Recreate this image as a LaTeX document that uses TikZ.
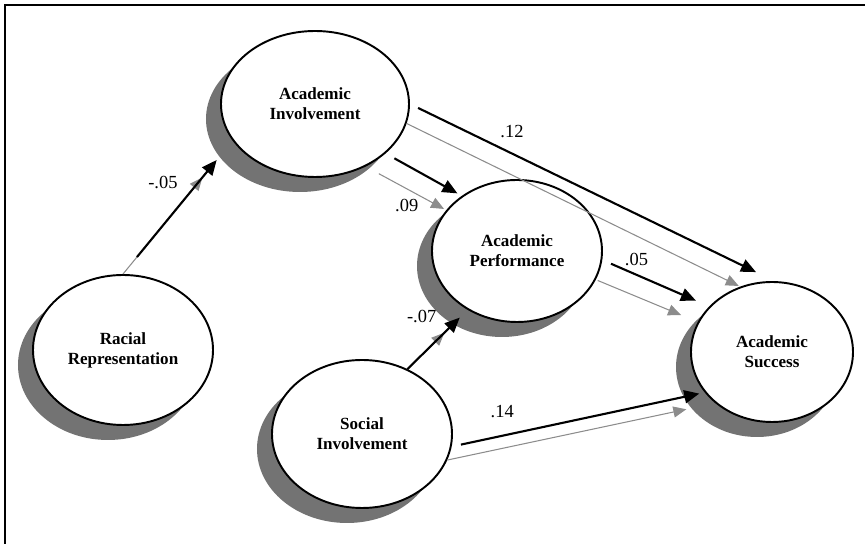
\documentclass[tikz,border=0pt]{standalone}
\usepackage{fontspec}
\setmainfont{Liberation Serif}
\usetikzlibrary{shapes,arrows.meta,shadows}

\begin{document}
\begin{tikzpicture}[x=0.2mm, y=-0.2mm]
        % Define block styles
        \tikzstyle{construct} = [ellipse, draw, fill=white, line width=1.1pt, inner sep=0pt,
            align=center, font=\fontsize{9.7}{11.4}\selectfont\bfseries,
            drop shadow={shadow xshift=-3mm, shadow yshift=-3mm, fill=black!55, opacity=1}]
        \tikzstyle{line} = [draw, line width=1.2pt, -{Triangle[length=3mm, width=2.6mm]}]
        \tikzstyle{faint} = [draw, black!45, line width=0.6pt, -{Triangle[length=2.6mm, width=2.2mm]}]
        \tikzstyle{weight} = [inner sep=0pt, text=black, font=\fontsize{10.5}{12}\selectfont]

        \useasboundingbox (0,0) rectangle (865,544);
        \draw [line width=0.6pt] (5,544) -- (5,5) -- (865,5);

        % Nodes
        \node [construct, minimum width=36mm, minimum height=30mm] (racial) at (123,350) {Racial\\Representation};
        \node [construct, minimum width=37.6mm, minimum height=29.2mm] (acad) at (315,104) {Academic\\Involvement};
        \node [construct, minimum width=34mm, minimum height=28.4mm] (perf) at (517,251) {Academic\\Performance};
        \node [construct, minimum width=36mm, minimum height=29.6mm] (social) at (362,434) {Social\\Involvement};
        \node [construct, minimum width=32.4mm, minimum height=28mm] (success) at (772,352) {Academic\\Success};

        % Arrows
        \path [faint, shorten >=9.5mm] (racial.90) -- (acad.204);
        \path [line, shorten <=4.4mm, shorten >=5mm] (racial.90) -- node[weight, pos=0.69, left=4mm] {-.05} (acad.204);

        \path [faint, shorten <=3mm, shorten >=0.5mm] (acad.309) -- node[weight, pos=0.51, below=2mm] {.09} (perf.150);
        \path [line, shorten <=2mm, shorten >=1mm] (acad.325) -- (perf.135);

        \path [faint, shorten >=0.3mm] (acad.348) -- (success.116);
        \path [line, shorten <=1.8mm, shorten >=4.1mm] (acad.0) -- node[weight, pos=0.28, above=3mm] {.12} (success.88);

        \path [faint, shorten <=0.4mm, shorten >=3.6mm] (perf.340) -- (success.158);
        \path [line, shorten <=1.9mm, shorten >=2.9mm] (perf.354) -- node[weight, pos=0.32, above=1.6mm] {.05} (success.144);

        \path [faint, shorten >=6.5mm] (social.55) -- (perf.230);
        \path [line, shorten >=2.2mm] (social.55) -- node[weight, pos=0.88, left=4.6mm] {-.07} (perf.230);

        \path [faint, shorten >=5.9mm] (social.343) -- (success.222);
        \path [line, shorten <=1.9mm, shorten >=1.1mm] (social.352) -- node[weight, pos=0.2, above=3.3mm] {.14} (success.211);
\end{tikzpicture}
\end{document}
